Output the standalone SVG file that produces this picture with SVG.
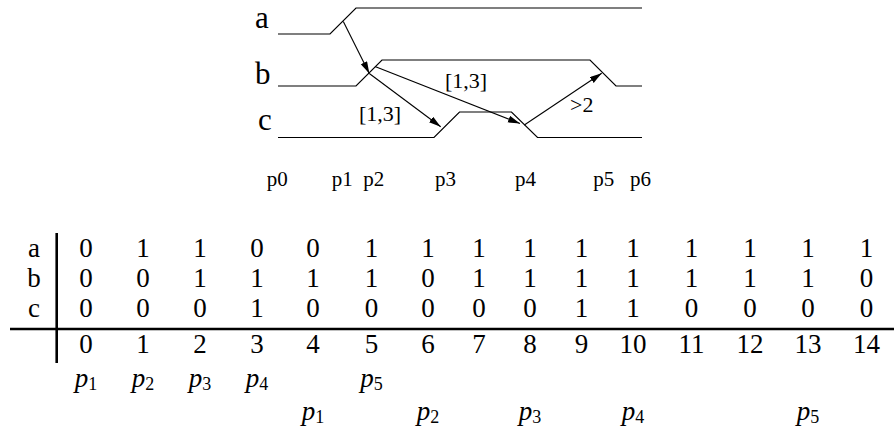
<svg xmlns="http://www.w3.org/2000/svg" width="894" height="426" viewBox="0 0 894 426">
<style>
.wave{fill:none;stroke:#000;stroke-width:1.2}
.arr{fill:none;stroke:#000;stroke-width:1.1;marker-end:url(#ah)}
text{font-family:'Liberation Serif','DejaVu Serif','Times New Roman',serif;fill:#000}
.big{font-size:31px}
.sm{font-size:21px}
.lb{font-size:22px}
.tb{font-size:27px;text-anchor:middle}
.pi{font-size:27px;font-style:italic;text-anchor:middle}
.sub{font-style:normal;font-size:18px}
.rule{stroke:#000;stroke-width:2.6}
</style>
<defs>
<marker id="ah" markerWidth="13" markerHeight="8" refX="12" refY="3.5" orient="auto" markerUnits="userSpaceOnUse">
<path d="M0,0 L12,3.5 L0,7 z" fill="#000"/>
</marker>
</defs>
<g id="signal-a">
<text class="big" x="255" y="28">a</text>
<polyline class="wave" points="278,34 330,34 356,8 642,8"/>
</g>
<g id="signal-b">
<text class="big" x="255" y="83.5">b</text>
<polyline class="wave" points="278,86 356,86 382,60 590,60 616,86 642,86"/>
</g>
<g id="signal-c">
<text class="big" x="258" y="130">c</text>
<polyline class="wave" points="278,137.5 434,137.5 459.5,112 511.5,112 537.5,137.5 642,137.5"/>
</g>
<g id="connectors">
<line class="arr" x1="343.3" y1="21.5" x2="369.3" y2="73.5"/>
<line class="arr" x1="369.3" y1="73.5" x2="440.7" y2="126.7"/>
<line class="arr" x1="375" y1="66.5" x2="520" y2="123.5"/>
<line class="arr" x1="524.3" y1="125" x2="601.7" y2="73.3"/>
<text class="lb" x="359" y="120.5">[1,3]</text>
<text class="lb" x="445" y="88">[1,3]</text>
<text class="lb" x="570" y="111.5">&gt;2</text>
</g>
<g id="positions">
<text class="sm" x="266.7" y="186">p0</text>
<text class="sm" x="331.7" y="186">p1</text>
<text class="sm" x="363.3" y="186">p2</text>
<text class="sm" x="435" y="186">p3</text>
<text class="sm" x="515" y="186">p4</text>
<text class="sm" x="593.3" y="186">p5</text>
<text class="sm" x="630" y="186">p6</text>
</g>
<g id="table">
<line class="rule" x1="56.7" y1="233" x2="56.7" y2="363"/>
<line class="rule" x1="10" y1="329" x2="894" y2="329"/>
<text class="tb" x="34" y="256.5">a</text>
<text class="tb" x="34" y="286.5">b</text>
<text class="tb" x="34" y="317">c</text>
<g id="row-a">
<text class="tb" x="86" y="256.5">0</text><text class="tb" x="143" y="256.5">1</text><text class="tb" x="200" y="256.5">1</text><text class="tb" x="257" y="256.5">0</text><text class="tb" x="313" y="256.5">0</text><text class="tb" x="371.5" y="256.5">1</text><text class="tb" x="428" y="256.5">1</text><text class="tb" x="479" y="256.5">1</text><text class="tb" x="530" y="256.5">1</text><text class="tb" x="581.5" y="256.5">1</text><text class="tb" x="633" y="256.5">1</text><text class="tb" x="691.5" y="256.5">1</text><text class="tb" x="750" y="256.5">1</text><text class="tb" x="808" y="256.5">1</text><text class="tb" x="866.5" y="256.5">1</text>
</g>
<g id="row-b">
<text class="tb" x="86" y="286.5">0</text><text class="tb" x="143" y="286.5">0</text><text class="tb" x="200" y="286.5">1</text><text class="tb" x="257" y="286.5">1</text><text class="tb" x="313" y="286.5">1</text><text class="tb" x="371.5" y="286.5">1</text><text class="tb" x="428" y="286.5">0</text><text class="tb" x="479" y="286.5">1</text><text class="tb" x="530" y="286.5">1</text><text class="tb" x="581.5" y="286.5">1</text><text class="tb" x="633" y="286.5">1</text><text class="tb" x="691.5" y="286.5">1</text><text class="tb" x="750" y="286.5">1</text><text class="tb" x="808" y="286.5">1</text><text class="tb" x="866.5" y="286.5">0</text>
</g>
<g id="row-c">
<text class="tb" x="86" y="317">0</text><text class="tb" x="143" y="317">0</text><text class="tb" x="200" y="317">0</text><text class="tb" x="257" y="317">1</text><text class="tb" x="313" y="317">0</text><text class="tb" x="371.5" y="317">0</text><text class="tb" x="428" y="317">0</text><text class="tb" x="479" y="317">0</text><text class="tb" x="530" y="317">0</text><text class="tb" x="581.5" y="317">1</text><text class="tb" x="633" y="317">1</text><text class="tb" x="691.5" y="317">0</text><text class="tb" x="750" y="317">0</text><text class="tb" x="808" y="317">0</text><text class="tb" x="866.5" y="317">0</text>
</g>
<g id="row-index">
<text class="tb" x="86" y="352.5">0</text><text class="tb" x="143" y="352.5">1</text><text class="tb" x="200" y="352.5">2</text><text class="tb" x="257" y="352.5">3</text><text class="tb" x="313" y="352.5">4</text><text class="tb" x="371.5" y="352.5">5</text><text class="tb" x="428" y="352.5">6</text><text class="tb" x="479" y="352.5">7</text><text class="tb" x="530" y="352.5">8</text><text class="tb" x="581.5" y="352.5">9</text><text class="tb" x="633" y="352.5">10</text><text class="tb" x="691.5" y="352.5">11</text><text class="tb" x="750" y="352.5">12</text><text class="tb" x="808" y="352.5">13</text><text class="tb" x="866.5" y="352.5">14</text>
</g>
<g id="p-row-1">
<text class="pi" x="86" y="387">p<tspan class="sub" dy="3">1</tspan></text>
<text class="pi" x="143" y="387">p<tspan class="sub" dy="3">2</tspan></text>
<text class="pi" x="200" y="387">p<tspan class="sub" dy="3">3</tspan></text>
<text class="pi" x="257" y="387">p<tspan class="sub" dy="3">4</tspan></text>
<text class="pi" x="371.5" y="387">p<tspan class="sub" dy="3">5</tspan></text>
</g>
<g id="p-row-2">
<text class="pi" x="313" y="420">p<tspan class="sub" dy="3">1</tspan></text>
<text class="pi" x="428" y="420">p<tspan class="sub" dy="3">2</tspan></text>
<text class="pi" x="530" y="420">p<tspan class="sub" dy="3">3</tspan></text>
<text class="pi" x="633" y="420">p<tspan class="sub" dy="3">4</tspan></text>
<text class="pi" x="808" y="420">p<tspan class="sub" dy="3">5</tspan></text>
</g>
</g>
</svg>
